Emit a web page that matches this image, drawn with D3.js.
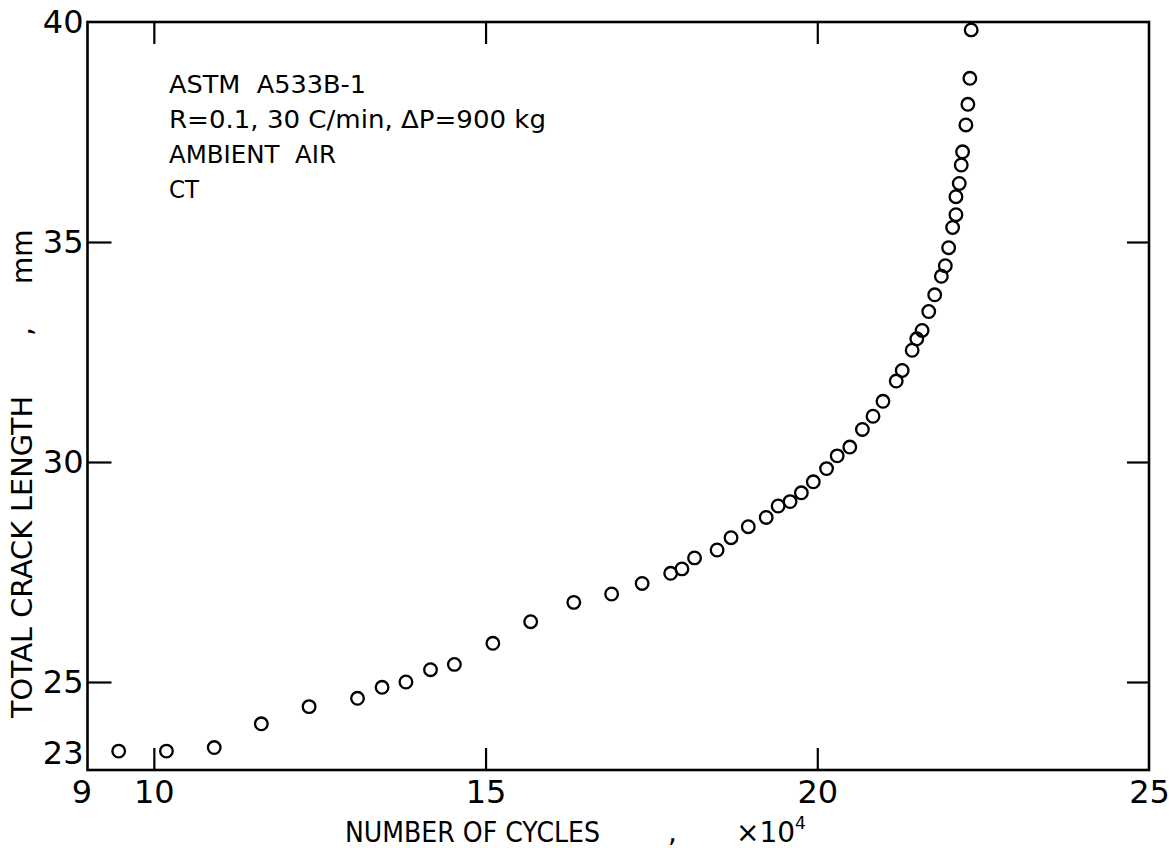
<!DOCTYPE html>
<html>
<head>
<meta charset="utf-8">
<script src="https://cdn.jsdelivr.net/npm/d3@7"></script>
<style>
  html, body { margin: 0; padding: 0; background: #fff; }
  svg text { font-family: "DejaVu Sans", sans-serif; fill: #000; }
</style>
</head>
<body>
<div id="chart"></div>
<script>
const WIDTH = 1169, HEIGHT = 848;
const M_LEFT = 87.5, M_RIGHT = 20, M_TOP = 22, M_BOT = 78;

// number of cycles (x10^4) and total crack length (mm)
const cycles = [9.47, 10.19, 10.91, 11.62, 12.34, 13.07, 13.44, 13.80, 14.17, 14.53,
  15.11, 15.68, 16.33, 16.90, 17.36, 17.79, 17.96, 18.15, 18.49, 18.70,
  18.96, 19.23, 19.41, 19.59, 19.76, 19.94, 20.14, 20.30, 20.49, 20.68,
  20.84, 20.99, 21.19, 21.28, 21.43, 21.50, 21.58, 21.68, 21.77, 21.87,
  21.93, 21.98, 22.04, 22.09, 22.09, 22.14, 22.17, 22.19, 22.24, 22.27, 22.30, 22.32];
const crackLength = [23.43, 23.43, 23.51, 24.05, 24.44, 24.63, 24.88, 25.00, 25.28, 25.40,
  25.88, 26.37, 26.81, 27.00, 27.24, 27.47, 27.57, 27.82, 28.00, 28.28,
  28.53, 28.74, 29.00, 29.10, 29.30, 29.55, 29.85, 30.14, 30.34, 30.74,
  31.04, 31.38, 31.84, 32.08, 32.54, 32.80, 32.99, 33.42, 33.80, 34.22,
  34.46, 34.87, 35.33, 35.62, 36.03, 36.33, 36.75, 37.05, 37.66, 38.13, 38.72, 39.82];

const xTicks = [9, 10, 15, 20, 25];
const yTicks = [23, 25, 30, 35, 40];
const xInner = [10, 15, 20];
const yInner = [25, 30, 35];
const notes = ["ASTM  A533B-1", "R=0.1, 30 C/min, \u0394P=900 kg", "AMBIENT  AIR", "CT"];
const noteWidths = [197, 377, 167, 30];

const svg = d3.select("#chart").append("svg")
  .attr("width", WIDTH).attr("height", HEIGHT);

const x = d3.scaleLinear().domain([9, 25]).range([M_LEFT, WIDTH - M_RIGHT]);
const y = d3.scaleLinear().domain([23, 40]).range([HEIGHT - M_BOT, M_TOP]);

// frame
svg.append("rect")
  .attr("x", x(9)).attr("y", y(40))
  .attr("width", x(25) - x(9)).attr("height", y(23) - y(40))
  .attr("fill", "none").attr("stroke", "#000").attr("stroke-width", 2.6);

const styleAxis = g => {
  g.select(".domain").remove();
  g.selectAll(".tick line").attr("stroke", "#000").attr("stroke-width", 2.2);
  g.selectAll(".tick text").style("font-size", "32px").attr("fill", "#000");
};

// bottom
svg.append("g").attr("transform", `translate(0,${y(23)})`)
  .call(d3.axisBottom(x).tickValues(xTicks).tickSize(0).tickPadding(10).tickFormat(d3.format("d")))
  .call(styleAxis)
  .call(g => g.selectAll(".tick text").attr("dx", d => d === 9 ? -6 : 0));
svg.append("g").attr("transform", `translate(0,${y(23)})`)
  .call(d3.axisBottom(x).tickValues(xInner).tickSize(-22).tickFormat(""))
  .call(styleAxis);
// top
svg.append("g").attr("transform", `translate(0,${y(40)})`)
  .call(d3.axisTop(x).tickValues(xInner).tickSize(-22).tickFormat(""))
  .call(styleAxis);
// left
svg.append("g").attr("transform", `translate(${x(9)},0)`)
  .call(d3.axisLeft(y).tickValues(yTicks).tickSize(0).tickPadding(4).tickFormat(d3.format("d")))
  .call(styleAxis)
  .call(g => g.selectAll(".tick text").attr("dy", d => d === 23 ? "-0.2em" : "0.32em"));
svg.append("g").attr("transform", `translate(${x(9)},0)`)
  .call(d3.axisLeft(y).tickValues(yInner).tickSize(-24).tickFormat(""))
  .call(styleAxis);
// right
svg.append("g").attr("transform", `translate(${x(25)},0)`)
  .call(d3.axisRight(y).tickValues(yInner).tickSize(-22).tickFormat(""))
  .call(styleAxis);

// points
svg.append("g").selectAll("circle")
  .data(cycles.map((c, i) => ({ c, l: crackLength[i] })))
  .join("circle")
  .attr("cx", d => x(d.c))
  .attr("cy", d => y(d.l))
  .attr("r", 6.3)
  .attr("fill", "none")
  .attr("stroke", "#000")
  .attr("stroke-width", 2.3);

// annotation
svg.append("g").selectAll("text")
  .data(notes)
  .join("text")
  .attr("x", 169)
  .attr("y", (d, i) => 93 + i * 35)
  .attr("xml:space", "preserve")
  .attr("textLength", (d, i) => noteWidths[i])
  .attr("lengthAdjust", "spacingAndGlyphs")
  .style("font-size", "24px")
  .text(d => d);

// x title
const xt = svg.append("g").style("font-size", "28px");
xt.append("text").attr("x", 345).attr("y", 842)
  .attr("textLength", 255).attr("lengthAdjust", "spacingAndGlyphs")
  .text("NUMBER OF CYCLES");
xt.append("text").attr("x", 668).attr("y", 842).text(",");
xt.append("text").attr("x", 736).attr("y", 842)
  .text("\u00d710")
  .append("tspan").attr("dy", -13).style("font-size", "17px").text("4");

// y title
const yt = svg.append("g").style("font-size", "28px")
  .attr("transform", "translate(32,0) rotate(-90)");
yt.append("text").attr("x", -718).attr("y", 0)
  .attr("textLength", 322).attr("lengthAdjust", "spacingAndGlyphs")
  .text("TOTAL CRACK LENGTH");
yt.append("text").attr("x", -336).attr("y", 0).text(",");
yt.append("text").attr("x", -284).attr("y", 0).text("mm");
</script>
</body>
</html>
